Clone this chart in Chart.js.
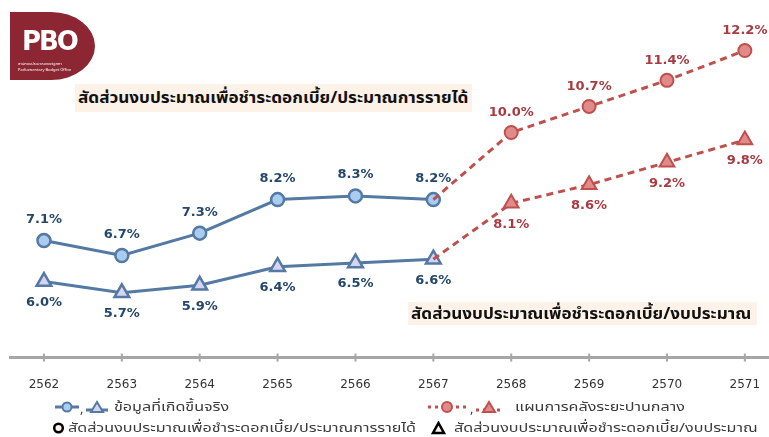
<!DOCTYPE html>
<html>
<head>
<meta charset="utf-8">
<title>interest ratio</title>
<script src="https://cdn.jsdelivr.net/npm/chart.js@4.4.0/dist/chart.umd.min.js"></script>
<style>
  body { margin: 0; background: #fff; font-family: "Noto Sans Thai", "Noto Sans", sans-serif; }
  #wrap { position: relative; width: 769px; height: 437px; overflow: hidden; }
  #myChart { position: absolute; left: 0; top: 0; }
  .logo { position: absolute; left: 10px; top: 12px; width: 85px; height: 68px; background: #8c2633;
          border-radius: 0 44px 44px 0 / 0 34px 34px 0; color: #fff; }
  .logo b { position: absolute; left: 12px; top: 14px; font: bold 26px "DejaVu Sans", sans-serif; letter-spacing: -2px; }
  .logo i { position: absolute; left: 8px; font-style: normal; font-size: 4px; line-height: 4px; white-space: nowrap; }
  .note { position: absolute; background: #fdf2e8; }
  .note span { position: absolute; left: 3px; top: 50%; color: #111; font-weight: bold; font-size: 16px;
               white-space: nowrap; transform: translateY(-50%) scaleX(1.07); transform-origin: left center; }
  .ic { position: absolute; display: block; }
  .lt { position: absolute; font-size: 13px; color: #3a3a3a; white-space: nowrap;
        transform: translateY(-50%) scaleX(1.24); transform-origin: left center; }
</style>
</head>
<body>
<div id="wrap">
  <canvas id="myChart" width="769" height="437"></canvas>
  <div class="logo"><b>PBO</b><i style="top:50px">สำนักงบประมาณของรัฐสภา</i><i style="top:56px">Parliamentary Budget Office</i></div>
  <div class="note" style="left:75px;top:84px;width:397px;height:28px"><span>สัดส่วนงบประมาณเพื่อชำระดอกเบี้ย/ประมาณการรายได้</span></div>
  <div class="note" style="left:408px;top:302px;width:349px;height:23px"><span>สัดส่วนงบประมาณเพื่อชำระดอกเบี้ย/งบประมาณ</span></div>

  <!-- legend row 1 -->
  <svg class="ic" style="left:55px;top:400px" width="24" height="14"><line x1="0" y1="7" x2="24" y2="7" stroke="#5479a3" stroke-width="3"/><circle cx="12" cy="7" r="4.5" fill="#a8cdf0" stroke="#5479a3" stroke-width="2"/></svg>
  <span class="lt" style="left:80px;top:409px;transform:translateY(-50%)">,</span>
  <svg class="ic" style="left:86px;top:400px" width="22" height="14"><line x1="0" y1="10" x2="22" y2="10" stroke="#5479a3" stroke-width="3"/><polygon points="11,2 17,12 5,12" fill="#d5d5f3" stroke="#5479a3" stroke-width="2"/></svg>
  <span class="lt" style="left:114px;top:407px">ข้อมูลที่เกิดขึ้นจริง</span>

  <svg class="ic" style="left:428px;top:400px" width="38" height="14"><line x1="0" y1="7" x2="38" y2="7" stroke="#c0504d" stroke-width="3" stroke-dasharray="3,4"/><circle cx="19" cy="7" r="5" fill="#e08a8a" stroke="#c0504d" stroke-width="2"/></svg>
  <span class="lt" style="left:470px;top:409px;transform:translateY(-50%)">,</span>
  <svg class="ic" style="left:476px;top:400px" width="26" height="14"><line x1="0" y1="10" x2="26" y2="10" stroke="#c0504d" stroke-width="3" stroke-dasharray="3,4"/><polygon points="13,2 19,12 7,12" fill="#e08a8a" stroke="#c0504d" stroke-width="2"/></svg>
  <span class="lt" style="left:515px;top:407px">แผนการคลังระยะปานกลาง</span>

  <!-- legend row 2 -->
  <svg class="ic" style="left:52px;top:421px" width="13" height="14"><circle cx="6.5" cy="7" r="4.3" fill="#fdf2e8" stroke="#000" stroke-width="2.5"/></svg>
  <span class="lt" style="left:68px;top:428px">สัดส่วนงบประมาณเพื่อชำระดอกเบี้ย/ประมาณการรายได้</span>
  <svg class="ic" style="left:431px;top:421px" width="15" height="14"><polygon points="7.5,2 13,12 2,12" fill="#fdf2e8" stroke="#000" stroke-width="2.5"/></svg>
  <span class="lt" style="left:454px;top:428px">สัดส่วนงบประมาณเพื่อชำระดอกเบี้ย/งบประมาณ</span>
</div>
<script>
  const years = [2562, 2563, 2564, 2565, 2566, 2567, 2568, 2569, 2570, 2571];
  // actual, 2562-2567
  const actualRevenue = [7.1, 6.7, 7.3, 8.2, 8.3, 8.2];
  const actualBudget  = [6.0, 5.7, 5.9, 6.4, 6.5, 6.6];
  // medium term fiscal plan, 2567 (joins the actual line) - 2571
  const planRevenue = [8.2, 10.0, 10.7, 11.4, 12.2];
  const planBudget  = [6.6, 8.1, 8.6, 9.2, 9.8];

  const blue = '#5479a3', red = '#c0504d';
  const actualYears = years.slice(0, 6);
  const planYears = years.slice(5);

  function pts(xs, ys) { return ys.map((v, i) => ({ x: xs[i], y: v })); }

  const labelPlugin = {
    id: 'pctLabels',
    afterDatasetsDraw(chart) {
      const ctx = chart.ctx;
      ctx.save();
      ctx.font = 'bold 13px "DejaVu Sans", sans-serif';
      ctx.textAlign = 'center';
      ctx.textBaseline = 'middle';
      chart.data.datasets.forEach((ds, di) => {
        const meta = chart.getDatasetMeta(di);
        meta.data.forEach((p, i) => {
          if (ds.skipFirst && i === 0) return;
          const v = ds.data[i].y;
          ctx.fillStyle = ds.labelColor;
          ctx.fillText(v.toFixed(1) + '%', p.x, p.y + ds.labelOffset);
        });
      });
      ctx.restore();
    }
  };

  const axisPlugin = {
    id: 'axisTicks',
    afterDraw(chart) {
      const ctx = chart.ctx, xs = chart.scales.x, y = chart.chartArea.bottom;
      ctx.save();
      ctx.strokeStyle = '#a6a6a6';
      ctx.lineWidth = 2;
      years.forEach(yr => {
        const x = xs.getPixelForValue(yr);
        ctx.beginPath(); ctx.moveTo(x, y - 4); ctx.lineTo(x, y + 4); ctx.stroke();
      });
      ctx.restore();
    }
  };

  new Chart(document.getElementById('myChart'), {
    type: 'line',
    data: {
      datasets: [
        { data: pts(planYears, planRevenue), borderColor: red, borderWidth: 3, borderDash: [7, 5],
          pointStyle: 'circle', pointRadius: [0, 6.5, 6.5, 6.5, 6.5], pointBackgroundColor: '#e08a8a',
          pointBorderColor: red, pointBorderWidth: 2, skipFirst: true, labelColor: '#a83a40', labelOffset: -20 },
        { data: pts(planYears, planBudget), borderColor: red, borderWidth: 3, borderDash: [7, 5],
          pointStyle: 'triangle', pointRadius: [0, 8.5, 8.5, 8.5, 8.5], pointBackgroundColor: '#e08a8a',
          pointBorderColor: red, pointBorderWidth: 2, skipFirst: true, labelColor: '#a83a40', labelOffset: 21 },
        { data: pts(actualYears, actualRevenue), borderColor: blue, borderWidth: 3,
          pointStyle: 'circle', pointRadius: 6.5, pointBackgroundColor: '#a8cdf0',
          pointBorderColor: blue, pointBorderWidth: 2.5, labelColor: '#24476b', labelOffset: -21 },
        { data: pts(actualYears, actualBudget), borderColor: blue, borderWidth: 3,
          pointStyle: 'triangle', pointRadius: 8.5, pointBackgroundColor: '#d5d5f3',
          pointBorderColor: blue, pointBorderWidth: 2.5, labelColor: '#24476b', labelOffset: 21 }
      ]
    },
    options: {
      responsive: false,
      animation: false,
      layout: { autoPadding: false, padding: { top: 20, left: 10, right: 0, bottom: 33 } },
      plugins: { legend: { display: false }, tooltip: { enabled: false } },
      scales: {
        x: {
          type: 'linear', min: 2561.564, max: 2571.31,
          afterFit: s => { s.paddingLeft = 0; s.paddingRight = 0; },
          border: { color: '#a6a6a6', width: 3 },
          grid: { display: false },
          ticks: { stepSize: 1, includeBounds: false, padding: 12, color: '#333',
                   font: { size: 12, family: '"DejaVu Sans", sans-serif' },
                   callback: v => String(v) }
        },
        y: { display: false, min: 3.96, max: 13.02 }
      }
    },
    plugins: [labelPlugin, axisPlugin]
  });
</script>
</body>
</html>
